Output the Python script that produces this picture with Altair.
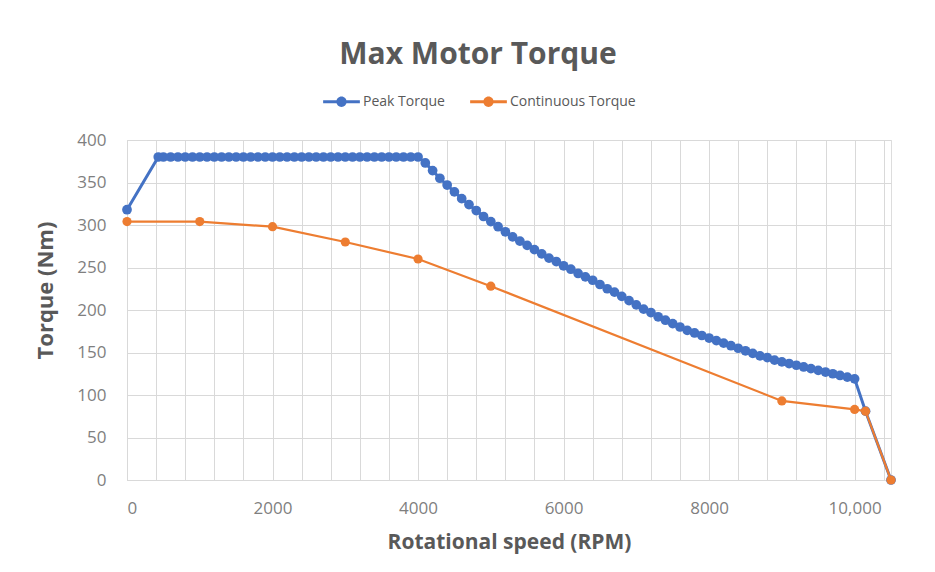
import altair as alt
import pandas as pd

# ---- data ----
peak_rpm = [0, 430] + list(range(500, 10001, 100)) + [10150, 10500]
peak_torque = [318, 380,
    380, 380, 380, 380, 380, 380, 380, 380, 380, 380,   # 500-1400
    380, 380, 380, 380, 380, 380, 380, 380, 380, 380,   # 1500-2400
    380, 380, 380, 380, 380, 380, 380, 380, 380, 380,   # 2500-3400
    380, 380, 380, 380, 380, 380,                       # 3500-4000
    373, 364, 355, 347, 339, 331, 324, 317, 310, 304,   # 4100-5000
    298, 292, 286, 281, 276, 271, 266, 261, 257, 252,   # 5100-6000
    248, 243, 239, 235, 230, 225, 221, 216, 211, 206,   # 6100-7000
    201, 197, 192, 188, 184, 180, 176, 173, 170, 167,   # 7100-8000
    164, 161, 158, 155, 152, 149, 146, 144, 141, 139,   # 8100-9000
    137, 135, 133, 131, 129, 127, 125, 123, 121, 119,   # 9100-10000
    81, 0]

cont_rpm = [0, 1000, 2000, 3000, 4000, 5000, 9000, 10000, 10150, 10500]
cont_torque = [304, 304, 298, 280, 260, 228, 93, 83, 81, 0]

series_names = ["Peak Torque", "Continuous Torque"]
series_colors = ["#4472C4", "#ED7D31"]

x_grid = list(range(0, 10401, 400))
y_ticks = list(range(0, 401, 50))

df = pd.concat([
    pd.DataFrame({"rpm": peak_rpm, "torque": peak_torque, "series": series_names[0]}),
    pd.DataFrame({"rpm": cont_rpm, "torque": cont_torque, "series": series_names[1]}),
], ignore_index=True)

FONT = "Open Sans"

x_enc = alt.X("rpm:Q",
    scale=alt.Scale(domain=[0, 10500], nice=False),
    axis=alt.Axis(values=x_grid, title="Rotational speed (RPM)",
                  labelExpr="datum.value % 2000 == 0 ? (datum.value == 10000 ? '10,000' : format(datum.value, 'd')) : ''",
                  labelOverlap=False, ticks=False, labelPadding=20,
                  labelFontSize=17, labelColor="#7F7F7F", labelFont=FONT,
                  titleFontSize=21, titleFontWeight="bold", titleColor="#595959", titleFont=FONT,
                  titlePadding=15, grid=True, gridColor="#D9D9D9", domainColor="#D9D9D9"))
y_enc = alt.Y("torque:Q",
    scale=alt.Scale(domain=[0, 400], nice=False),
    axis=alt.Axis(values=y_ticks, title="Torque (Nm)", ticks=False, labelPadding=21,
                  labelFontSize=17, labelColor="#7F7F7F", labelFont=FONT,
                  titleFontSize=22, titleFontWeight="bold", titleColor="#595959", titleFont=FONT,
                  titlePadding=19, titleY=150, grid=True, gridColor="#D9D9D9", domainColor="#D9D9D9"))

color_scale = alt.Scale(domain=series_names, range=series_colors)
legend_path = ("M-1,-0.08L1,-0.08L1,0.08L-1,0.08Z "
               "M0.28,0A0.28,0.28,0,1,1,-0.28,0A0.28,0.28,0,1,1,0.28,0Z")
legend = alt.Legend(title=None, orient="none", direction="horizontal",
                    legendX=196, legendY=-57, symbolType=legend_path, padding=0,
                    symbolSize=1350, symbolStrokeWidth=0, labelFontSize=14,
                    labelFont=FONT, labelColor="#595959", columnPadding=25,
                    labelOffset=3)
color_enc = alt.Color("series:N", scale=color_scale, legend=legend)

base = alt.Chart(df).encode(x=x_enc, y=y_enc)
peak = base.transform_filter(alt.datum.series == series_names[0])
cont = base.transform_filter(alt.datum.series == series_names[1])

peak_line = peak.mark_line(strokeWidth=3, color=series_colors[0])
cont_line = cont.mark_line(strokeWidth=2.2, color=series_colors[1])
peak_pts = peak.mark_point(filled=True, size=95, opacity=1).encode(color=color_enc)
cont_pts = cont.mark_point(filled=True, size=85, opacity=1).encode(color=color_enc)

chart = alt.layer(peak_line, peak_pts, cont_line, cont_pts).properties(
    width=764, height=340,
    title=alt.TitleParams("Max Motor Torque", fontSize=30, font=FONT, fontWeight="bold",
                          color="#595959", anchor="middle", dx=-31, offset=13),
    autosize=alt.AutoSizeParams(type="none"),
    padding={"left": 119, "top": 132, "right": 30, "bottom": 80},
).configure_view(stroke=None).configure(background="white")

chart.save("out.html", embed_options={"renderer": "svg", "actions": False})
